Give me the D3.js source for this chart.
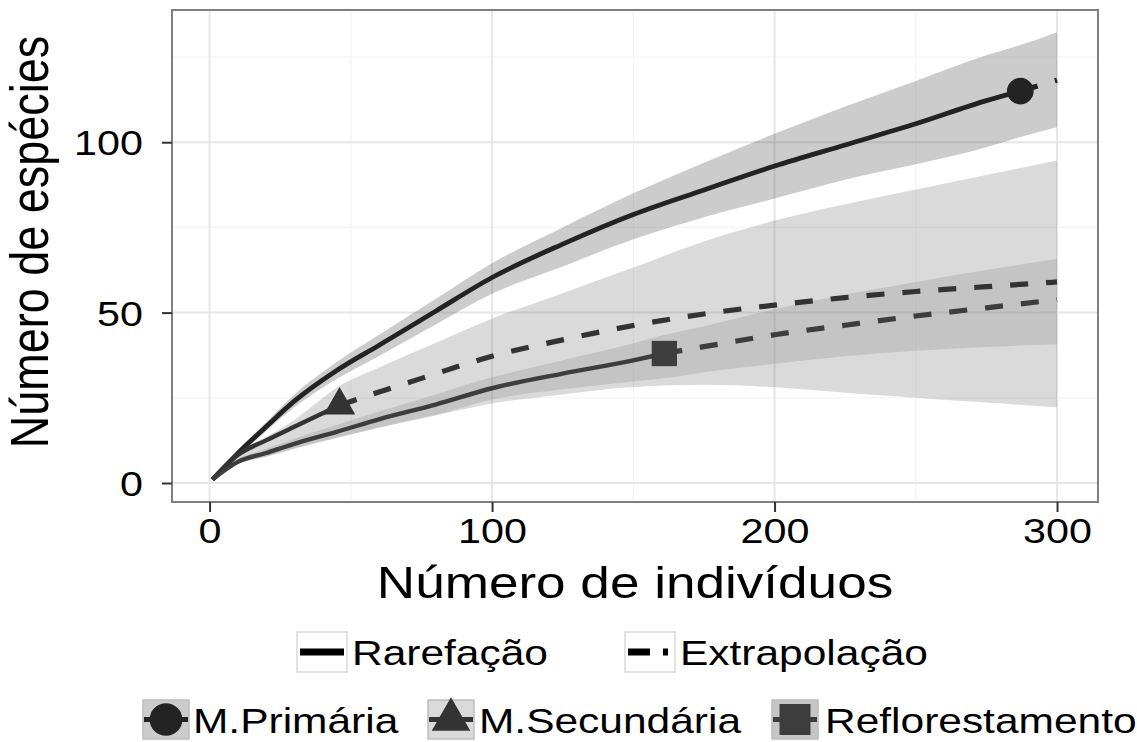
<!DOCTYPE html>
<html><head><meta charset="utf-8">
<script src="https://cdn.jsdelivr.net/npm/d3@7"></script>
<style>
body{margin:0;background:#fff}
svg{display:block}
text{font-family:"Liberation Sans",Arial,sans-serif;fill:#000}
</style>
</head><body>
<svg id="chart" width="1137" height="742"></svg>
<script>
// ---------- data ----------
const xTicks = [0, 100, 200, 300];
const yTicks = [0, 50, 100];
const xMinor = [50, 150, 250];
const yMinor = [25, 75, 125];

const seriesNames = ["M.Primária", "M.Secundária", "Reflorestamento"];
const methodNames = ["Rarefação", "Extrapolação"];

// M.Primária
const primRarX = [1, 10, 20, 30, 45, 60, 80, 100, 125, 150, 175, 200, 225, 250, 275, 287];
const primRarY = [1, 8.7, 16.5, 24, 33, 40.4, 50.4, 60.3, 70.1, 78.8, 86, 93, 99.2, 105.4, 112.2, 115];
const primExtX = [287, 300];
const primExtY = [115, 118.2];
const primBandX = [1, 10, 20, 30, 45, 60, 80, 100, 125, 150, 175, 200, 225, 250, 275, 287, 300];
const primBandHi = [1, 9.6, 17.8, 26, 35.5, 43.5, 54, 64.5, 75, 85, 94, 102.5, 110.5, 118, 125.5, 128.5, 132.3];
const primBandLo = [1, 7.8, 15.2, 22.2, 30.5, 37.3, 46.5, 55.5, 63.5, 71.5, 78, 83.5, 89, 93.5, 98.5, 101.5, 104.4];
const primObs = [287, 115];

// M.Secundária
const secRarX = [1, 10, 20, 30, 46];
const secRarY = [1, 8.2, 12.5, 16.5, 22.8];
const secExtX = [46, 60, 75, 100, 125, 150, 175, 200, 225, 250, 275, 300];
const secExtY = [22.8, 26.7, 30.7, 37.2, 42, 46.2, 49.6, 52.2, 54.4, 56.2, 57.6, 59];
const secBandX = [1, 10, 20, 30, 46, 60, 80, 100, 125, 150, 175, 200, 225, 250, 275, 300];
const secBandHi = [1, 9, 13.5, 18.5, 28.5, 33.9, 41.1, 48.2, 55.7, 63.2, 70.9, 77, 81.8, 86.1, 90.4, 94.6];
const secBandLo = [1, 5.5, 7.8, 10.2, 13.5, 16.2, 19.8, 23.3, 26, 28.2, 28.8, 28.1, 26.5, 25, 23.6, 22.2];
const secObs = [46, 22.8];

// Reflorestamento
const refRarX = [1, 10, 20, 30, 45, 60, 80, 100, 125, 150, 161];
const refRarY = [1, 6.2, 8.8, 11.5, 15, 18.7, 23, 27.8, 32.1, 36, 38];
const refExtX = [161, 175, 200, 225, 250, 275, 300];
const refExtY = [38, 40, 43.5, 46.3, 49, 51.4, 53.8];
const refBandX = [1, 10, 20, 30, 45, 60, 80, 100, 125, 150, 161, 175, 200, 225, 250, 275, 300];
const refBandHi = [1, 7, 10, 13, 17, 21, 26, 31, 36, 41, 43.4, 46, 51, 55.3, 59, 62.5, 65.7];
const refBandLo = [1, 5.6, 7.6, 10, 13.2, 16.3, 20, 24.5, 27.5, 29.8, 30.7, 32.5, 35, 37.2, 38.8, 39.9, 40.7];
const refObs = [161, 38];

// ---------- styles ----------
const SX = 1.18;               // horizontal text stretch of the original
const FONT_TITLE = 45, FONT_TICK = 35, FONT_LEG = 36;
const lineCol = ["#232323", "#333333", "#3d3d3d"];
const bandFill = ["#333333", "#6b6b6b", "#828282"];
const bandAlpha = 0.25;
const keyFill = ["#cccccc", "#dadada", "#c6c6c6"];

const svg = d3.select("#chart");
const P = {l: 172, r: 1098, t: 10, b: 502};
const x = d3.scaleLinear().domain([-13.3, 314.5]).range([P.l, P.r]);
const y = d3.scaleLinear().domain([-5.58, 138.8]).range([P.b, P.t]);

function zip(xs, ys) { return xs.map((v, i) => [v, ys[i]]); }
function zip3(xs, lo, hi) { return xs.map((v, i) => ({x: v, lo: lo[i], hi: hi[i]})); }
function stretchText(sel, px, py, str, size, anchor, extra) {
  return sel.append("text")
    .attr("transform", `translate(${px},${py}) scale(${SX},1)` + (extra || ""))
    .attr("text-anchor", anchor).attr("font-size", size).text(str);
}

// panel background
svg.append("rect").attr("x", P.l).attr("y", P.t).attr("width", P.r - P.l).attr("height", P.b - P.t).attr("fill", "#fff");

// grid
const grid = svg.append("g");
grid.selectAll(".vmin").data(xMinor).join("line")
  .attr("x1", d => x(d)).attr("x2", d => x(d)).attr("y1", P.t).attr("y2", P.b)
  .attr("stroke", "#f4f4f4").attr("stroke-width", 1.2);
grid.selectAll(".hmin").data(yMinor).join("line")
  .attr("y1", d => y(d)).attr("y2", d => y(d)).attr("x1", P.l).attr("x2", P.r)
  .attr("stroke", "#f4f4f4").attr("stroke-width", 1.2);
grid.selectAll(".vmaj").data(xTicks).join("line")
  .attr("x1", d => x(d)).attr("x2", d => x(d)).attr("y1", P.t).attr("y2", P.b)
  .attr("stroke", "#e6e6e6").attr("stroke-width", 2);
grid.selectAll(".hmaj").data(yTicks).join("line")
  .attr("y1", d => y(d)).attr("y2", d => y(d)).attr("x1", P.l).attr("x2", P.r)
  .attr("stroke", "#e6e6e6").attr("stroke-width", 2);

// bands
const area = d3.area().x(d => x(d.x)).y0(d => y(d.lo)).y1(d => y(d.hi)).curve(d3.curveMonotoneX);
const bands = [zip3(primBandX, primBandLo, primBandHi), zip3(secBandX, secBandLo, secBandHi), zip3(refBandX, refBandLo, refBandHi)];
svg.append("g").selectAll("path").data(bands).join("path")
  .attr("d", area).attr("fill", (d, i) => bandFill[i]).attr("fill-opacity", bandAlpha);

// lines
const line = d3.line().x(d => x(d[0])).y(d => y(d[1])).curve(d3.curveMonotoneX);
const rar = [zip(primRarX, primRarY), zip(secRarX, secRarY), zip(refRarX, refRarY)];
const ext = [zip(primExtX, primExtY), zip(secExtX, secExtY), zip(refExtX, refExtY)];
const lg = svg.append("g").attr("fill", "none");
lg.selectAll(".rar").data(rar).join("path")
  .attr("d", line).attr("stroke", (d, i) => lineCol[i]).attr("stroke-width", (d, i) => i === 0 ? 4.8 : 4.4)
  .attr("stroke-linejoin", "round");
lg.selectAll(".ext").data(ext).join("path")
  .attr("d", line).attr("stroke", (d, i) => lineCol[i]).attr("stroke-width", 5.2)
  .attr("stroke-dasharray", "18,18");

// points
const pts = [primObs, secObs, refObs];
const shapes = [d3.symbolCircle, d3.symbolTriangle, d3.symbolSquare];
const sizes = [560, 430, 640];
svg.append("g").selectAll("path").data(pts).join("path")
  .attr("transform", d => `translate(${x(d[0])},${y(d[1])})`)
  .attr("d", (d, i) => d3.symbol().type(shapes[i]).size(sizes[i])())
  .attr("fill", (d, i) => lineCol[i]);

// panel border
svg.append("rect").attr("x", P.l).attr("y", P.t).attr("width", P.r - P.l).attr("height", P.b - P.t)
  .attr("fill", "none").attr("stroke", "#7f7f7f").attr("stroke-width", 2);

// axes
const xAxis = svg.append("g").attr("transform", `translate(0,${P.b})`)
  .call(d3.axisBottom(x).tickValues(xTicks).tickSize(10).tickSizeOuter(0).tickFormat(d3.format("d")));
xAxis.select(".domain").remove();
xAxis.selectAll(".tick line").attr("stroke", "#333").attr("stroke-width", 2);
xAxis.selectAll(".tick text").each(function(d) {
  d3.select(this).attr("x", null).attr("y", null).attr("dy", null)
    .attr("transform", `translate(0,41) scale(${SX},1)`)
    .attr("font-size", FONT_TICK).attr("fill", "#000").attr("font-family", null);
});
const yAxis = svg.append("g").attr("transform", `translate(${P.l},0)`)
  .call(d3.axisLeft(y).tickValues(yTicks).tickSize(10).tickSizeOuter(0).tickFormat(d3.format("d")));
yAxis.select(".domain").remove();
yAxis.selectAll(".tick line").attr("stroke", "#333").attr("stroke-width", 2);
yAxis.selectAll(".tick text").each(function(d) {
  d3.select(this).attr("x", null).attr("y", null).attr("dy", null)
    .attr("transform", `translate(-29,12.5) scale(${SX},1)`)
    .attr("font-size", FONT_TICK).attr("fill", "#000").attr("font-family", null);
});

// axis titles
stretchText(svg, (P.l + P.r) / 2, 598, "Número de indivíduos", FONT_TITLE, "middle");
svg.append("text")
  .attr("transform", `translate(48,242) scale(${SX},1) rotate(-90)`)
  .attr("text-anchor", "middle").attr("font-size", FONT_TITLE).text("Número de espécies");

// legend row 1 (linetype)
const leg1 = svg.append("g");
const l1Keys = [297, 625];
const l1Text = [352, 680];
methodNames.forEach((m, i) => {
  const kx = l1Keys[i], ky = 632, kw = 50, kh = 40;
  leg1.append("rect").attr("x", kx).attr("y", ky).attr("width", kw).attr("height", kh)
    .attr("fill", "#fff").attr("stroke", "#d9d9d9").attr("stroke-width", 1.5);
  leg1.append("line").attr("x1", kx + 3).attr("x2", i === 1 ? kx + 43 : kx + 47)
    .attr("y1", ky + kh / 2).attr("y2", ky + kh / 2)
    .attr("stroke", "#000").attr("stroke-width", 7)
    .attr("stroke-dasharray", i === 1 ? "22,13" : null);
  stretchText(leg1, l1Text[i], ky + kh / 2 + 13, m, FONT_LEG, "start");
});

// legend row 2 (groups)
const leg2 = svg.append("g");
const l2Keys = [143, 428, 772];
const l2Text = [193, 479, 825];
seriesNames.forEach((s, i) => {
  const kx = l2Keys[i], ky = 700, kw = 46, kh = 39;
  leg2.append("rect").attr("x", kx).attr("y", ky).attr("width", kw).attr("height", kh)
    .attr("fill", keyFill[i]).attr("stroke", "#bdbdbd").attr("stroke-width", 1.5);
  leg2.append("line").attr("x1", kx + 1).attr("x2", kx + kw - 1).attr("y1", ky + kh / 2).attr("y2", ky + kh / 2)
    .attr("stroke", lineCol[i]).attr("stroke-width", 5);
  leg2.append("path").attr("transform", `translate(${kx + kw / 2},${ky + kh / 2})`)
    .attr("d", d3.symbol().type(shapes[i]).size(sizes[i] * 1.5)()).attr("fill", lineCol[i]);
  stretchText(leg2, l2Text[i], ky + kh / 2 + 13, s, FONT_LEG, "start");
});
</script>
</body></html>
